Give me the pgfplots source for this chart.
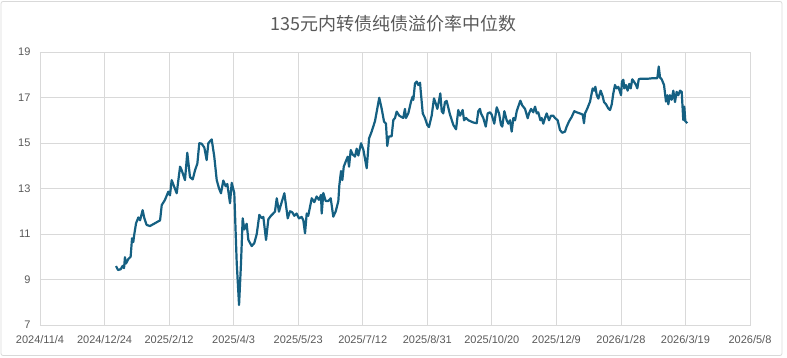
\documentclass[border=0pt]{standalone}
\usepackage{pgfplots}
\pgfplotsset{compat=1.18}
\usepackage{fontspec}
\setmainfont{Liberation Sans}
\newfontfamily\cjk{Noto Sans CJK SC}
\definecolor{linec}{HTML}{156082}
\definecolor{gridc}{HTML}{D9D9D9}
\definecolor{textc}{HTML}{595959}
\begin{document}
\begin{tikzpicture}
\useasboundingbox (0pt,0pt) rectangle (787pt,357pt);
\draw[gridc, line width=0.8pt, rounded corners=2pt] (1pt,1.5pt) rectangle (782pt,355.5pt);
\node[text=textc, font=\cjk\fontsize{18}{20}\selectfont] at (393.5pt,333pt) {135元内转债纯债溢价率中位数};
\begin{axis}[at={(40pt,32pt)}, anchor=south west, scale only axis, width=710pt, height=273pt,
 xmin=0, xmax=550, ymin=7, ymax=19,
 xtick={0,50,100,150,200,250,300,350,400,450,500,550},
 xticklabels={2024/11/4,2024/12/24,2025/2/12,2025/4/3,2025/5/23,2025/7/12,2025/8/31,2025/10/20,2025/12/9,2026/1/28,2026/3/19,2026/5/8},
 ytick={7,9,11,13,15,17,19},
 grid=major, major grid style={gridc, line width=0.8pt}, axis line style={gridc, line width=0.8pt},
 major tick length=0pt, tick style={draw=none},
 ticklabel style={font=\fontsize{11}{13}\selectfont, text=textc},
 yticklabel style={xshift=-6pt}, xticklabel style={yshift=-7pt},
 /pgf/number format/assume math mode=true]
\addplot[linec, line width=2.2pt, line join=round] coordinates {
(58.9,9.59)(60.4,9.42)(62.5,9.45)(64.0,9.6)(65.1,9.5)(65.8,9.98)(66.6,9.7)(68.4,9.9)(70.2,10.0)
(71.3,10.81)(72.3,10.65)(72.8,10.9)(74.4,11.47)(76.2,11.73)(77.5,11.6)(79.5,12.05)(80.8,11.7)
(82.6,11.4)(85.2,11.35)(93.0,11.6)(94.3,12.27)(96.8,12.5)(99.4,12.86)(100.7,12.7)(102.0,13.37)
(103.8,13.1)(105.9,12.79)(108.5,13.96)(109.8,13.8)(112.3,13.37)(114.1,14.57)(116.2,13.5)
(118.3,13.4)(120.1,13.8)(121.9,14.1)(123.4,14.99)(125.2,14.97)(127.3,14.8)(129.1,14.25)
(130.4,14.99)(133.0,15.16)(135.0,14.4)(136.9,13.37)(138.7,13.0)(140.2,12.79)(142.0,13.35)
(143.8,13.1)(145.1,13.2)(147.2,12.35)(148.5,13.25)(150.5,12.8)(152.4,9.71)(154.2,7.88)
(155.7,9.71)(157.0,11.69)(158.3,11.2)(160.1,11.45)(161.4,10.74)(164.0,10.47)(166.0,10.6)
(167.9,11.0)(169.9,11.84)(171.7,11.7)(173.0,11.75)(175.1,10.74)(176.9,11.65)(178.9,11.8)
(182.0,11.98)(183.4,12.57)(185.1,11.98)(186.7,12.3)(189.3,12.79)(191.9,11.69)(193.7,12.0)
(195.5,11.95)(197.0,11.8)(198.8,11.9)(200.6,11.69)(202.7,11.75)(204.0,11.6)(205.3,11.03)
(206.6,11.9)(207.8,11.8)(210.5,12.57)(212.5,12.4)(214.3,12.65)(216.1,12.5)(217.7,12.72)
(218.2,11.9)(219.5,12.8)(221.3,12.45)(223.3,12.45)(225.2,12.57)(227.2,11.76)(229.1,12.0)
(231.1,12.45)(231.9,13.15)(233.2,13.77)(234.2,13.37)(235.3,13.96)(236.8,14.18)(238.4,14.4)
(239.4,13.96)(240.7,14.69)(242.2,14.5)(244.0,14.4)(245.3,14.75)(246.6,14.45)(248.7,14.99)
(250.5,14.7)(253.1,13.89)(254.9,15.2)(256.9,15.5)(259.5,15.96)(262.8,16.99)(264.7,16.5)
(266.5,15.94)(268.0,15.85)(269.0,14.87)(270.1,15.28)(272.4,15.3)(273.7,16.01)(275.0,16.1)
(276.3,16.38)(278.3,16.2)(281.4,16.1)(282.7,16.5)(283.5,16.1)(285.3,16.3)(287.4,16.82)
(288.7,17.04)(289.2,16.9)(290.5,17.62)(291.8,17.7)(293.0,17.55)(294.4,17.65)(294.9,17.3)
(296.5,16.3)(298.2,16.1)(300.0,15.79)(301.3,15.7)(303.4,16.2)(305.2,16.96)(306.8,16.7)
(307.8,16.5)(308.9,16.8)(310.1,17.18)(311.2,16.4)(312.4,16.3)(313.7,16.8)(315.0,16.85)
(317.6,16.25)(320.2,15.79)(322.3,15.6)(324.0,16.45)(325.4,16.2)(327.4,16.45)(328.5,16.0)
(330.0,16.1)(331.8,16.0)(335.7,15.9)(338.3,15.87)(339.5,16.4)(340.8,16.5)(341.6,16.3)
(343.4,16.1)(345.3,15.72)(346.8,16.3)(348.6,16.35)(349.9,16.25)(351.9,15.85)(353.8,16.57)
(355.6,16.3)(357.1,15.8)(358.1,15.72)(359.7,16.4)(361.5,16.0)(362.8,15.85)(364.1,16.0)
(365.4,15.5)(366.7,16.1)(368.0,16.0)(369.3,16.4)(370.5,16.6)(372.1,16.86)(373.6,16.65)
(375.7,16.5)(377.8,16.09)(378.8,16.3)(380.4,16.5)(382.1,16.35)(383.5,16.6)(384.8,16.3)
(386.0,16.35)(387.6,16.0)(388.6,16.1)(389.9,15.85)(391.2,16.1)(392.5,16.3)(394.3,16.0)
(395.8,16.2)(397.6,16.2)(398.9,16.1)(401.0,16.0)(402.8,15.57)(404.6,15.45)(406.7,15.5)
(408.0,15.72)(409.8,15.95)(411.9,16.15)(413.9,16.4)(415.7,16.35)(418.3,16.3)(420.4,16.25)
(421.4,15.87)(422.2,16.3)(424.0,16.52)(426.1,16.82)(428.1,17.4)(429.2,17.3)(430.2,17.47)
(431.3,17.1)(432.5,16.95)(434.3,17.3)(435.9,17.05)(436.9,16.8)(438.5,16.7)(440.2,16.52)
(441.6,16.45)(442.9,16.7)(444.1,17.18)(445.4,17.55)(446.7,17.4)(448.0,17.47)(449.3,17.25)
(450.1,17.1)(450.8,17.7)(451.9,17.78)(452.6,17.4)(453.9,17.55)(455.2,17.3)(456.5,17.6)
(457.6,17.4)(458.8,17.8)(460.1,17.7)(461.7,17.55)(462.7,17.4)(463.8,17.8)(464.8,17.82)
(470.0,17.82)(475.1,17.85)(478.2,17.85)(479.3,18.36)(480.3,17.88)(481.6,17.8)(483.4,17.55)
(484.9,16.82)(486.0,17.1)(486.7,16.7)(488.0,17.1)(489.3,16.9)(490.6,17.3)(491.9,16.8)
(493.2,17.25)(494.4,17.1)(495.8,17.3)(497.1,17.25)(498.3,16.01)(499.1,16.6)(499.9,15.96)
(501.4,15.87)
};
\end{axis}
\end{tikzpicture}
\end{document}
